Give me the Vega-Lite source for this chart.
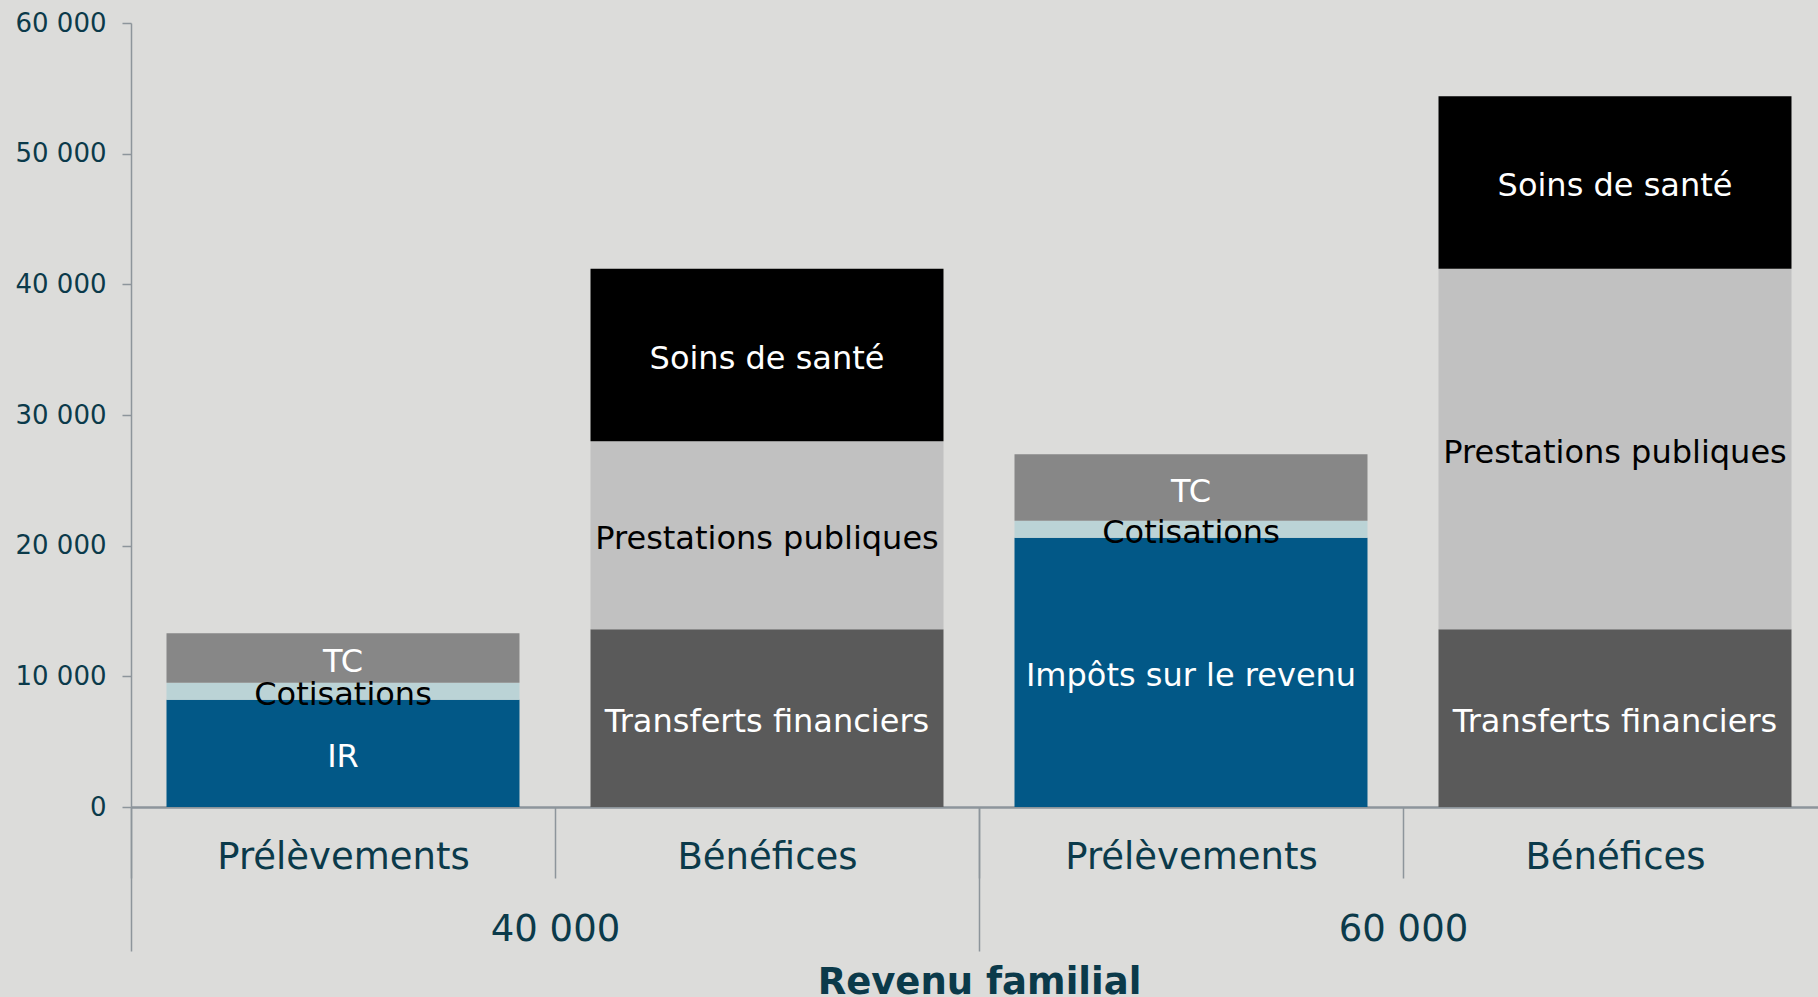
{
  "$schema": "https://vega.github.io/schema/vega-lite/v6.json",
  "width": 1687,
  "height": 784,
  "autosize": {"type": "none"},
  "padding": {"left": 131, "top": 23, "right": 0, "bottom": 190},
  "background": "#dcdcda",
  "config": {"view": {"stroke": null}, "font": "DejaVu Sans"},
  "data": {
    "values": [
      {"groupe": "40 000", "colonne": "40 000|Prélèvements", "poste": "Impôts sur le revenu", "etiquette": "IR", "valeur": 8200, "rang": 1},
      {"groupe": "40 000", "colonne": "40 000|Prélèvements", "poste": "Cotisations", "etiquette": "Cotisations", "valeur": 1300, "rang": 2},
      {"groupe": "40 000", "colonne": "40 000|Prélèvements", "poste": "TC", "etiquette": "TC", "valeur": 3800, "rang": 3},
      {"groupe": "40 000", "colonne": "40 000|Bénéfices", "poste": "Transferts financiers", "etiquette": "Transferts financiers", "valeur": 13600, "rang": 1},
      {"groupe": "40 000", "colonne": "40 000|Bénéfices", "poste": "Prestations publiques", "etiquette": "Prestations publiques", "valeur": 14400, "rang": 2},
      {"groupe": "40 000", "colonne": "40 000|Bénéfices", "poste": "Soins de santé", "etiquette": "Soins de santé", "valeur": 13200, "rang": 3},
      {"groupe": "60 000", "colonne": "60 000|Prélèvements", "poste": "Impôts sur le revenu", "etiquette": "Impôts sur le revenu", "valeur": 20600, "rang": 1},
      {"groupe": "60 000", "colonne": "60 000|Prélèvements", "poste": "Cotisations", "etiquette": "Cotisations", "valeur": 1300, "rang": 2},
      {"groupe": "60 000", "colonne": "60 000|Prélèvements", "poste": "TC", "etiquette": "TC", "valeur": 5100, "rang": 3},
      {"groupe": "60 000", "colonne": "60 000|Bénéfices", "poste": "Transferts financiers", "etiquette": "Transferts financiers", "valeur": 13600, "rang": 1},
      {"groupe": "60 000", "colonne": "60 000|Bénéfices", "poste": "Prestations publiques", "etiquette": "Prestations publiques", "valeur": 27600, "rang": 2},
      {"groupe": "60 000", "colonne": "60 000|Bénéfices", "poste": "Soins de santé", "etiquette": "Soins de santé", "valeur": 13200, "rang": 3}
    ]
  },
  "layer": [
    {
      "mark": {"type": "bar", "width": {"band": 0.8325}},
      "encoding": {
        "x": {
          "field": "colonne", "type": "nominal",
          "sort": ["40 000|Prélèvements", "40 000|Bénéfices", "60 000|Prélèvements", "60 000|Bénéfices"],
          "scale": {"range": [0, 1696], "paddingInner": 0, "paddingOuter": 0},
          "axis": {
            "orient": "bottom",
            "title": null,
            "labelExpr": "split(datum.label, '|')[1]",
            "labelAngle": 0,
            "labelLimit": 0,
            "labelFont": "DejaVu Sans",
            "labelFontSize": 37,
            "labelColor": "#0b3a4a",
            "labelBaseline": "middle",
            "labelPadding": -21,
            "tickBand": "extent",
            "tickSize": 71,
            "tickWidth": 1.5,
            "tickColor": "#8d959b",
            "domainColor": "#8d959b",
            "domainWidth": 2.5,
            "grid": false
          }
        },
        "y": {
          "field": "valeur", "type": "quantitative", "stack": "zero",
          "scale": {"domain": [0, 60000], "nice": false},
          "axis": {
            "title": null,
            "values": [0, 10000, 20000, 30000, 40000, 50000, 60000],
            "labelExpr": "replace(format(datum.value, ','), ',', ' ')",
            "labelFont": "DejaVu Sans",
            "labelFontSize": 26,
            "labelColor": "#0b3a4a",
            "labelPadding": 16,
            "tickSize": 9,
            "tickWidth": 1.5,
            "tickColor": "#8d959b",
            "domainColor": "#8d959b",
            "domainWidth": 1.5,
            "grid": false
          }
        },
        "color": {
          "field": "poste", "type": "nominal", "legend": null,
          "scale": {
            "domain": ["Impôts sur le revenu", "Cotisations", "TC", "Transferts financiers", "Prestations publiques", "Soins de santé"],
            "range": ["#025887", "#bbd3d6", "#878787", "#5a5a5a", "#c1c1c1", "#000000"]
          }
        },
        "order": {"field": "rang", "type": "quantitative"}
      }
    },
    {
      "mark": {"type": "text", "fontSize": 32, "font": "DejaVu Sans", "baseline": "middle", "align": "center", "dy": 4},
      "encoding": {
        "x": {
          "field": "colonne", "type": "nominal",
          "sort": ["40 000|Prélèvements", "40 000|Bénéfices", "60 000|Prélèvements", "60 000|Bénéfices"],
          "scale": {"range": [0, 1696], "paddingInner": 0, "paddingOuter": 0},
          "axis": null
        },
        "y": {"field": "valeur", "type": "quantitative", "stack": "zero", "bandPosition": 0.5},
        "text": {"field": "etiquette"},
        "color": {
          "field": "poste", "type": "nominal", "legend": null,
          "scale": {
            "domain": ["Impôts sur le revenu", "Cotisations", "TC", "Transferts financiers", "Prestations publiques", "Soins de santé"],
            "range": ["#ffffff", "#000000", "#ffffff", "#ffffff", "#000000", "#ffffff"]
          }
        },
        "order": {"field": "rang", "type": "quantitative"}
      }
    },
    {
      "mark": {"type": "text", "opacity": 0},
      "encoding": {
        "x": {
          "field": "groupe", "type": "nominal",
          "scale": {"range": [0, 1696], "paddingInner": 0, "paddingOuter": 0},
          "axis": {
            "orient": "bottom",
            "title": "Revenu familial",
            "titleFont": "DejaVu Sans",
            "titleFontSize": 37,
            "titleFontWeight": "bold",
            "titleColor": "#0b3a4a",
            "titleBaseline": "alphabetic",
            "titleY": 186,
            "labelAngle": 0,
            "labelLimit": 0,
            "labelFont": "DejaVu Sans",
            "labelFontSize": 37,
            "labelColor": "#0b3a4a",
            "labelBaseline": "middle",
            "labelPadding": -22,
            "tickBand": "extent",
            "tickSize": 144,
            "tickWidth": 1.5,
            "tickColor": "#8d959b",
            "domain": false,
            "grid": false
          }
        },
        "text": {"value": " "}
      }
    }
  ],
  "resolve": {"scale": {"x": "independent", "color": "independent"}, "axis": {"x": "independent"}}
}
